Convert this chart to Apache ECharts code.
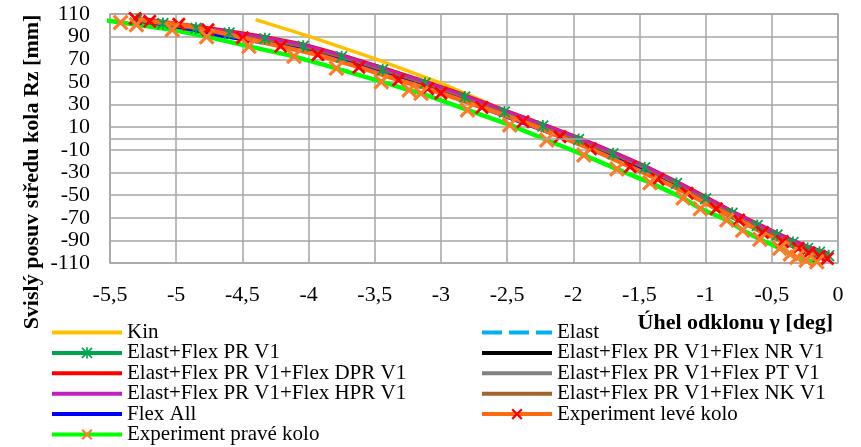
<!DOCTYPE html>
<html>
<head>
<meta charset="utf-8">
<script src="https://cdn.jsdelivr.net/npm/echarts@6/dist/echarts.min.js"></script>
<style>
  html, body { margin: 0; padding: 0; background: #ffffff; }
  #chart { width: 861px; height: 447px; }
</style>
</head>
<body>
<div id="chart"></div>
<script>
// Camber angle [deg] vs. vertical wheel-centre travel Rz [mm]

// Simulation variants share the same angle samples
const modelAngle = [-5.3, -5.1, -4.85, -4.6, -4.33, -4.04, -3.75, -3.44, -3.12, -2.82, -2.52, -2.23,
                    -1.96, -1.70, -1.46, -1.22, -1.0, -0.8, -0.61, -0.46, -0.34, -0.23, -0.14, -0.07];

const rzElast   = [104.5, 101.2, 97, 92.7, 87.6, 81.1, 71.7, 60.3, 48.3, 36.2, 22.9, 10.5,
                   -1.4, -14, -26.4, -40.3, -53.8, -66.5, -77.3, -85.7, -92.3, -97.7, -101.1, -104];
const rzPR      = [105, 101.7, 97.5, 93.2, 88.1, 81.6, 72.2, 60.8, 48.8, 36.7, 23.4, 11,
                   -0.9, -13.5, -25.9, -39.8, -53.3, -66, -76.8, -85.2, -91.8, -97.2, -100.6, -103.5];
const rzNR      = [104.3, 101, 96.8, 92.5, 87.4, 80.9, 71.5, 60.1, 48.1, 36, 22.7, 10.3,
                   -1.6, -14.2, -26.6, -40.5, -54, -66.7, -77.5, -85.9, -92.5, -97.9, -101.3, -104.2];
const rzDPR     = [106.5, 103.2, 99, 94.7, 89.6, 83.1, 73.7, 62.3, 50.3, 38.2, 24.9, 12.5,
                   0.6, -12, -24.4, -38.3, -51.8, -64.5, -75.3, -83.7, -90.3, -95.7, -99.1, -102];
const rzPT      = [104, 100.7, 96.5, 92.2, 87.1, 80.6, 71.2, 59.8, 47.8, 35.7, 22.4, 10,
                   -1.9, -14.5, -26.9, -40.8, -54.3, -67, -77.8, -86.2, -92.8, -98.2, -101.6, -104.5];
const rzHPR     = [105.8, 102.5, 98.3, 94, 88.9, 82.4, 73, 61.6, 49.6, 37.5, 24.2, 11.8,
                   -0.1, -12.7, -25.1, -39, -52.5, -65.2, -76, -84.4, -91, -96.4, -99.8, -102.7];
const rzNK      = [103.2, 99.9, 95.7, 91.4, 86.3, 79.8, 70.4, 59, 47, 34.9, 21.6, 9.2,
                   -2.7, -15.3, -27.7, -41.6, -55.1, -67.8, -78.6, -87, -93.6, -99, -102.4, -105.3];
const rzFlexAll = [101.5, 98.2, 94, 89.7, 84.6, 78.1, 68.7, 57.3, 45.3, 33.2, 19.9, 7.5,
                   -4.4, -17, -29.4, -43.3, -56.8, -69.5, -80.3, -88.7, -95.3, -100.7, -104.1, -107];

// Kinematic solution
const kinAngle = [-4.4, -4.0, -3.5, -3.0, -2.5, -2.0, -1.5, -1.0, -0.5, -0.08];
const rzKin    = [105, 90.5, 70.5, 49, 24, 1, -25, -53, -83, -104];

// Measurement, left wheel
const leftAngle = [-5.31, -5.2, -4.98, -4.76, -4.5, -4.21, -3.93, -3.62, -3.32, -3.1, -3.0, -2.69, -2.38,
                   -2.1, -1.87, -1.57, -1.36, -1.14, -0.92, -0.75, -0.57, -0.42, -0.3, -0.22, -0.14, -0.08];
const rzLeft    = [106, 103.5, 101, 96, 89, 81.4, 74, 63, 51.7, 44, 40, 27.5, 14.8,
                   1.6, -9, -24.9, -36, -48.4, -62, -72, -83, -91, -97, -101, -104, -106];

// Measurement, right wheel
const rightAngle = [-5.56, -5.42, -5.3, -5.03, -4.77, -4.45, -4.11, -3.79, -3.45, -3.24, -3.15, -2.8, -2.48,
                    -2.2, -1.92, -1.67, -1.42, -1.17, -1.04, -0.84, -0.72, -0.59, -0.44, -0.36, -0.31, -0.24, -0.16];
const rzRight    = [105, 102.5, 100.5, 96, 90, 81.4, 72.6, 62, 50.2, 42.8, 40, 25.2, 12,
                    -1.3, -14.6, -27, -39, -52.6, -62, -72, -81, -89, -97, -102, -105, -107.5, -109];

// Axis ranges
const xMin = -5.5, xMax = 0, xStep = 0.5;
const yMin = -110, yMax = 110, yStep = 20;

// Legend columns (left column continues with a last row of its own)
const legendLeft  = ['Kin', 'Elast+Flex PR V1', 'Elast+Flex PR V1+Flex DPR V1',
                     'Elast+Flex PR V1+Flex HPR V1', 'Flex All'];
const legendLeftLast = ['Experiment pravé kolo'];
const legendRight = ['Elast', 'Elast+Flex PR V1+Flex NR V1', 'Elast+Flex PR V1+Flex PT V1',
                     'Elast+Flex PR V1+Flex NK V1', 'Experiment levé kolo'];
// series drawn as bare lines (no point markers)
const markerless = ['Kin', 'Elast', 'Elast+Flex PR V1+Flex NR V1', 'Elast+Flex PR V1+Flex DPR V1',
                    'Elast+Flex PR V1+Flex PT V1', 'Elast+Flex PR V1+Flex HPR V1',
                    'Elast+Flex PR V1+Flex NK V1', 'Flex All'];

const xTitle = 'Úhel odklonu γ [deg]';
const yTitle = 'Svislý posuv středu kola Rz [mm]';

const pairs = (xs, ys) => xs.map((x, i) => [x, ys[i]]);

const SERIF = "'Liberation Serif', 'Times New Roman', serif";
const GRID_GREY = '#a6a6a6';

// marker shapes
const crossPath = 'path://M0 2.8 L2.8 0 L10 7.2 L17.2 0 L20 2.8 L12.8 10 L20 17.2 L17.2 20 L10 12.8 L2.8 20 L0 17.2 L7.2 10 Z';
const starPath  = 'path://M8.5 0 L11.5 0 L11.5 20 L8.5 20 Z M2.1 0 L20 17.9 L17.9 20 L0 2.1 Z M17.9 0 L20 2.1 L2.1 20 L0 17.9 Z';

function plainLine(name, xs, ys, color, width, type) {
  return {
    name, type: 'line', data: pairs(xs, ys),
    symbol: 'none', smooth: false,
    lineStyle: { color, width, type: type || 'solid' },
    itemStyle: { color },
    emphasis: { disabled: true }
  };
}

const series = [
  {
    // zero reference line of the horizontal axis
    name: 'zero', type: 'line', data: [], z: 1, silent: true,
    markLine: {
      silent: true, symbol: 'none', animation: false,
      label: { show: false },
      lineStyle: { color: GRID_GREY, width: 1.5, type: 'solid' },
      data: [{ yAxis: 0 }]
    }
  },
  plainLine('Kin', kinAngle, rzKin, '#ffc000', 3.5),
  plainLine('Elast', modelAngle, rzElast, '#00b0f0', 4, [20, 7]),
  {
    name: 'Elast+Flex PR V1', type: 'line', data: pairs(modelAngle, rzPR),
    symbol: starPath, symbolSize: 12, showSymbol: true,
    lineStyle: { color: '#00a550', width: 4 },
    itemStyle: { color: '#00a550' },
    emphasis: { disabled: true }
  },
  plainLine('Elast+Flex PR V1+Flex NR V1', modelAngle, rzNR, '#000000', 4),
  plainLine('Elast+Flex PR V1+Flex DPR V1', modelAngle, rzDPR, '#ff0000', 4),
  plainLine('Elast+Flex PR V1+Flex PT V1', modelAngle, rzPT, '#808080', 4),
  plainLine('Elast+Flex PR V1+Flex HPR V1', modelAngle, rzHPR, '#c020c0', 4),
  plainLine('Elast+Flex PR V1+Flex NK V1', modelAngle, rzNK, '#a0662d', 4),
  plainLine('Flex All', modelAngle, rzFlexAll, '#0000ff', 4),
  {
    name: 'Experiment levé kolo', type: 'line', data: pairs(leftAngle, rzLeft),
    symbol: crossPath, symbolSize: 14, showSymbol: true,
    lineStyle: { color: '#ff6a10', width: 4.5 },
    itemStyle: { color: '#ff0000' },
    emphasis: { disabled: true }
  },
  {
    name: 'Experiment pravé kolo', type: 'line', data: pairs(rightAngle, rzRight),
    symbol: crossPath, symbolSize: 16, showSymbol: true,
    lineStyle: { color: '#00ff00', width: 4.5 },
    itemStyle: { color: '#ff7a2a' },
    emphasis: { disabled: true }
  }
];

// legend entries: bare-line series get no marker in their key
const legendEntries = names => names.map(n =>
  markerless.includes(n) ? { name: n, itemStyle: { opacity: 0, color: 'rgba(0,0,0,0)' } } : { name: n });

const legendCommon = {
  orient: 'vertical', top: 322, padding: 0,
  itemWidth: 70, itemHeight: 14, itemGap: -0.6,
  selectedMode: false,
  lineStyle: { width: 4 },
  textStyle: { fontFamily: SERIF, fontSize: 21, color: '#000', lineHeight: 20 }
};

const chart = echarts.init(document.getElementById('chart'), null, { renderer: 'canvas' });
chart.setOption({
  animation: false,
  backgroundColor: '#ffffff',
  grid: {
    left: 110, right: 23, top: 14, bottom: 184,
    show: true, borderColor: GRID_GREY, borderWidth: 1.5, backgroundColor: '#ffffff',
    containLabel: false, outerBoundsMode: 'none'
  },
  xAxis: {
    type: 'value', min: xMin, max: xMax, interval: xStep,
    axisLine: { show: false }, axisTick: { show: false },
    splitLine: { show: true, lineStyle: { color: GRID_GREY, width: 1.5 } },
    axisLabel: {
      fontFamily: SERIF, fontSize: 22, color: '#000', margin: 21,
      showMinLabel: true, showMaxLabel: true,
      formatter: v => String(Math.round(v * 10) / 10).replace('.', ',')
    }
  },
  yAxis: {
    type: 'value', min: yMin, max: yMax, interval: yStep,
    axisLine: { show: false }, axisTick: { show: false },
    splitLine: { show: true, lineStyle: { color: GRID_GREY, width: 1.5 } },
    axisLabel: {
      fontFamily: SERIF, fontSize: 22, color: '#000', margin: 20,
      showMinLabel: true, showMaxLabel: true
    }
  },
  legend: [
    Object.assign({}, legendCommon, { left: 50, data: legendEntries(legendLeft) }),
    Object.assign({}, legendCommon, { left: 50, top: 424, data: legendEntries(legendLeftLast) }),
    Object.assign({}, legendCommon, { left: 480, data: legendEntries(legendRight) })
  ],
  graphic: [
    {
      type: 'text', x: 833, y: 323, silent: true,
      style: { text: xTitle, font: 'bold 22px ' + SERIF, fill: '#000', align: 'right', verticalAlign: 'middle' }
    },
    {
      type: 'text', x: 32, y: 172, rotation: Math.PI / 2, silent: true,
      style: { text: yTitle, font: 'bold 22px ' + SERIF, fill: '#000', align: 'center', verticalAlign: 'middle' }
    }
  ],
  series
});
</script>
</body>
</html>
